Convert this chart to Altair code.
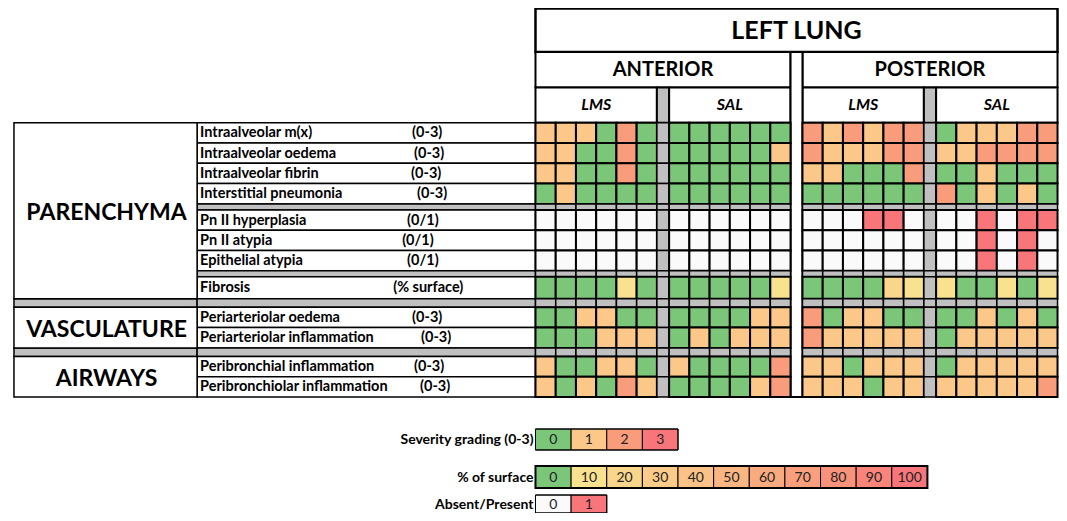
import altair as alt
import pandas as pd

# ------------------------------------------------------------------ data
row_labels = ["Intraalveolar m(x)", "Intraalveolar oedema", "Intraalveolar fibrin",
              "Interstitial pneumonia", "Pn II hyperplasia", "Pn II atypia",
              "Epithelial atypia", "Fibrosis", "Periarteriolar oedema",
              "Periarteriolar inflammation", "Peribronchial inflammation",
              "Peribronchiolar inflammation"]
row_scales = ["(0-3)", "(0-3)", "(0-3)", "(0-3)", "(0/1)", "(0/1)", "(0/1)",
              "(% surface)", "(0-3)", "(0-3)", "(0-3)", "(0-3)"]
row_kind = ["sev", "sev", "sev", "sev", "bin", "bin", "bin", "pct",
            "sev", "sev", "sev", "sev"]

groups = ["PARENCHYMA", "VASCULATURE", "AIRWAYS"]
group_rows = [(0, 7), (8, 9), (10, 11)]

sides = ["ANTERIOR", "POSTERIOR"]
subgroups = ["LMS", "SAL"]

ant_lms = [
    [1, 1, 1, 0, 2, 0], [1, 1, 0, 0, 2, 0], [1, 1, 0, 0, 2, 0], [0, 1, 0, 0, 0, 0],
    [0, 0, 0, 0, 0, 0], [0, 0, 0, 0, 0, 0], [0, 0, 0, 0, 0, 0],
    [0, 0, 0, 0, 10, 0],
    [0, 0, 1, 1, 0, 0], [0, 0, 0, 1, 1, 1], [1, 0, 0, 1, 1, 0], [1, 0, 1, 0, 2, 1],
]
ant_sal = [
    [0, 0, 0, 0, 0, 0], [0, 0, 0, 0, 0, 1], [0, 0, 0, 0, 0, 0], [0, 0, 0, 0, 0, 0],
    [0, 0, 0, 0, 0, 0], [0, 0, 0, 0, 0, 0], [0, 0, 0, 0, 0, 0],
    [0, 0, 0, 0, 0, 10],
    [0, 0, 0, 0, 1, 1], [0, 1, 0, 1, 1, 1], [1, 0, 0, 0, 0, 2], [0, 0, 0, 0, 1, 2],
]
post_lms = [
    [2, 1, 2, 1, 2, 2], [2, 1, 1, 1, 2, 2], [1, 1, 0, 0, 0, 2], [0, 0, 0, 0, 0, 0],
    [0, 0, 0, 1, 1, 0], [0, 0, 0, 0, 0, 0], [0, 0, 0, 0, 0, 0],
    [0, 0, 0, 0, 20, 10],
    [2, 0, 1, 1, 0, 0], [2, 1, 1, 1, 1, 1], [1, 1, 0, 1, 1, 1], [1, 1, 1, 0, 1, 1],
]
post_sal = [
    [0, 1, 1, 1, 2, 2], [1, 1, 2, 2, 2, 2], [0, 0, 1, 0, 0, 0], [2, 0, 1, 0, 1, 0],
    [0, 0, 1, 0, 1, 1], [0, 0, 1, 0, 1, 0], [0, 0, 1, 0, 1, 0],
    [10, 0, 0, 10, 0, 10],
    [0, 0, 1, 0, 1, 0], [0, 1, 1, 1, 1, 1], [0, 1, 1, 1, 1, 1], [1, 1, 1, 1, 1, 2],
]

sev_levels = [0, 1, 2, 3]
pct_levels = [0, 10, 20, 30, 40, 50, 60, 70, 80, 90, 100]
bin_levels = [0, 1]

sev_colors = ["#7BC678", "#FBC88A", "#F99C7C", "#F8767A"]
pct_colors = ["#7BC678", "#F8E290", "#F9D68C", "#FACB89", "#FAC286", "#FAB682",
              "#F9AA7F", "#F99F7C", "#F9927B", "#F8847A", "#F8767A"]
bin_colors = ["#FAFAFA", "#F8767A"]
GRAY = "#C0C0C0"

legend_titles = ["Severity grading (0-3)", "% of surface", "Absent/Present"]

# ------------------------------------------------------------------ layout
X0, X1 = 8, 1064          # layout units, squeezed into the 1051px drawable width
Y0, Y1 = 8, 513
W, H = 1051, 505
X_LEFT, X_GROUP, X_GRID = 14, 198, 538
CW, GW, GAP = 20.33, 12.3, 12.0
SIDE_W = 12 * CW + GW
side_x0 = [X_GRID, X_GRID + SIDE_W + GAP]
H_TOP = [8.5, 52, 87.5, 122.7]
ROW_H = 20.3
FIB_H = 22.0
SEP_S, SEP_B = 6.0, 8.5
label_x = 201
scale_x = [414, 416, 413, 419, 409, 404, 409, 395, 414, 423, 416, 422]
LEG_X, LEG_W = 538, 35.8
leg_y = [(429, 450), (466, 488), (495, 513)]

# row sequence: ('r', idx) data row, ('s',) small separator, ('S',) big separator
seq = [('r', 0), ('r', 1), ('r', 2), ('r', 3), ('s',), ('r', 4), ('r', 5), ('r', 6),
       ('s',), ('r', 7), ('S',), ('r', 8), ('r', 9), ('S',), ('r', 10), ('r', 11)]
segments = []
y = H_TOP[3]
for s in seq:
    if s[0] == 'r':
        h = FIB_H if row_kind[s[1]] == 'pct' else ROW_H
    else:
        h = SEP_S if s[0] == 's' else SEP_B
    segments.append((s, y, y + h))
    y += h
Y_BOTTOM = y
row_pos = {s[1]: (a, b) for s, a, b in segments if s[0] == 'r'}


def cell_x(side, pos):
    x0 = side_x0[side]
    if pos < 6:
        return x0 + pos * CW, x0 + (pos + 1) * CW
    if pos == 6:
        return x0 + 6 * CW, x0 + 6 * CW + GW
    return x0 + 6 * CW + GW + (pos - 7) * CW, x0 + 6 * CW + GW + (pos - 6) * CW


def colour(kind, v):
    if kind == 'sev':
        return sev_colors[sev_levels.index(v)]
    if kind == 'pct':
        return pct_colors[pct_levels.index(v)]
    return bin_colors[bin_levels.index(v)]


rects = []


def add(x, x2, y, y2, fill, sw=2.0, stroke="black"):
    rects.append(dict(x=x, x2=x2, y=y, y2=y2, fill=fill, stroke=stroke, sw=sw))


# header
add(X_GRID, side_x0[1] + SIDE_W, H_TOP[0], H_TOP[1], "white", 2.5)
for si in range(2):
    x0 = side_x0[si]
    add(x0, x0 + SIDE_W, H_TOP[1], H_TOP[2], "white", 2.0)
    a, b = cell_x(si, 0)[0], cell_x(si, 5)[1]
    add(a, b, H_TOP[2], H_TOP[3], "white", 2.0)
    g = cell_x(si, 6)
    add(g[0], g[1], H_TOP[2], H_TOP[3], GRAY, 2.0)
    a, b = cell_x(si, 7)[0], cell_x(si, 12)[1]
    add(a, b, H_TOP[2], H_TOP[3], "white", 2.0)
# gap between sides
add(side_x0[0] + SIDE_W, side_x0[1], H_TOP[1], Y_BOTTOM, "white", 2.0)

# left label area
for s, a, b in segments:
    if s[0] == 'r':
        add(X_GROUP, X_GRID, a, b, "white", 1.5)
    elif s[0] == 's':
        add(X_GROUP, X_GRID, a, b, GRAY, 1.5)
    else:
        add(X_LEFT, X_GROUP, a, b, GRAY, 1.5)
        add(X_GROUP, X_GRID, a, b, GRAY, 1.5)
for gi, (r0, r1) in enumerate(group_rows):
    add(X_LEFT, X_GROUP, row_pos[r0][0], row_pos[r1][1], "white", 1.5)

# grid cells
blocks = [[ant_lms, ant_sal], [post_lms, post_sal]]
for s, a, b in segments:
    for si in range(2):
        for pos in range(13):
            xa, xb = cell_x(si, pos)
            if s[0] != 'r' or pos == 6:
                add(xa, xb, a, b, GRAY, 1.5)
            else:
                r = s[1]
                vals = blocks[si][0] if pos < 6 else blocks[si][1]
                v = vals[r][pos if pos < 6 else pos - 7]
                add(xa, xb, a, b, colour(row_kind[r], v), 2.0)

# legend boxes
leg_sets = [(sev_levels, sev_colors), (pct_levels, pct_colors), (bin_levels, bin_colors)]
leg_text = []
for li, (lv, lc) in enumerate(leg_sets):
    ya, yb = leg_y[li]
    for i, (v, c) in enumerate(zip(lv, lc)):
        add(LEG_X + i * LEG_W, LEG_X + (i + 1) * LEG_W, ya, yb, c, 1.0)
        leg_text.append(dict(x=LEG_X + (i + 0.5) * LEG_W, y=(ya + yb) / 2 + 0.5, text=str(v)))
    add(LEG_X, LEG_X + len(lv) * LEG_W, ya, yb, "transparent", 2.0 if li == 1 else 1.0)

rect_df = pd.DataFrame(rects)

# texts
centre_bold = [dict(x=(X_GRID + side_x0[1] + SIDE_W) / 2, y=(H_TOP[0] + H_TOP[1]) / 2 + 1,
                    text="LEFT LUNG", size=25)]
for si in range(2):
    centre_bold.append(dict(x=side_x0[si] + SIDE_W / 2, y=(H_TOP[1] + H_TOP[2]) / 2,
                            text=sides[si], size=20))
for gi, (r0, r1) in enumerate(group_rows):
    centre_bold.append(dict(x=(X_LEFT + X_GROUP) / 2 + 1,
                            y=(row_pos[r0][0] + row_pos[r1][1]) / 2 + 2,
                            text=groups[gi], size=23))
cb_df = pd.DataFrame(centre_bold)

ital = []
for si in range(2):
    a, b = cell_x(si, 0)[0], cell_x(si, 5)[1]
    ital.append(dict(x=(a + b) / 2, y=(H_TOP[2] + H_TOP[3]) / 2, text=subgroups[0]))
    a, b = cell_x(si, 7)[0], cell_x(si, 12)[1]
    ital.append(dict(x=(a + b) / 2, y=(H_TOP[2] + H_TOP[3]) / 2, text=subgroups[1]))
it_df = pd.DataFrame(ital)

lab = []
for r in range(len(row_labels)):
    a, b = row_pos[r]
    lab.append(dict(x=label_x, y=(a + b) / 2 + 0.5, text=row_labels[r]))
    lab.append(dict(x=scale_x[r], y=(a + b) / 2 + 0.5, text=row_scales[r]))
lab_df = pd.DataFrame(lab)

lt_df = pd.DataFrame([dict(x=LEG_X - 2, y=(leg_y[i][0] + leg_y[i][1]) / 2 + 0.5, text=t)
                      for i, t in enumerate(legend_titles)])
ln_df = pd.DataFrame(leg_text)

# ------------------------------------------------------------------ chart
xs = alt.Scale(domain=[X0, X1], nice=False, zero=False)
ys = alt.Scale(domain=[Y0, Y1], nice=False, zero=False, reverse=True)
FONT = "Lato"

rect_layer = alt.Chart(rect_df).mark_rect().encode(
    x=alt.X("x:Q", scale=xs, axis=None), x2="x2:Q",
    y=alt.Y("y:Q", scale=ys, axis=None), y2="y2:Q",
    fill=alt.Fill("fill:N", scale=None),
    stroke=alt.Stroke("stroke:N", scale=None),
    strokeWidth=alt.StrokeWidth("sw:Q", scale=None),
)


def text_layer(df, colour_="black", **kw):
    enc = dict(x=alt.X("x:Q", scale=xs, axis=None),
               y=alt.Y("y:Q", scale=ys, axis=None),
               text="text:N")
    if "size" in df.columns:
        enc["size"] = alt.Size("size:Q", scale=None)
    return alt.Chart(df).mark_text(font=FONT, baseline="middle", color=colour_, **kw).encode(**enc)


chart = alt.layer(
    rect_layer,
    text_layer(cb_df, fontWeight="bold", align="center"),
    text_layer(it_df, fontWeight="bold", fontStyle="italic", align="center", fontSize=16),
    text_layer(lab_df, fontWeight="bold", align="left", fontSize=14.5),
    text_layer(lt_df, fontWeight="bold", align="right", fontSize=14),
    text_layer(ln_df, colour_="#222222", align="center", fontSize=14),
).properties(width=W, height=H, padding=0,
             autosize=alt.AutoSizeParams(type="none")
).configure_view(stroke=None)

chart.save("out.html", embed_options={"renderer": "svg", "actions": False})
